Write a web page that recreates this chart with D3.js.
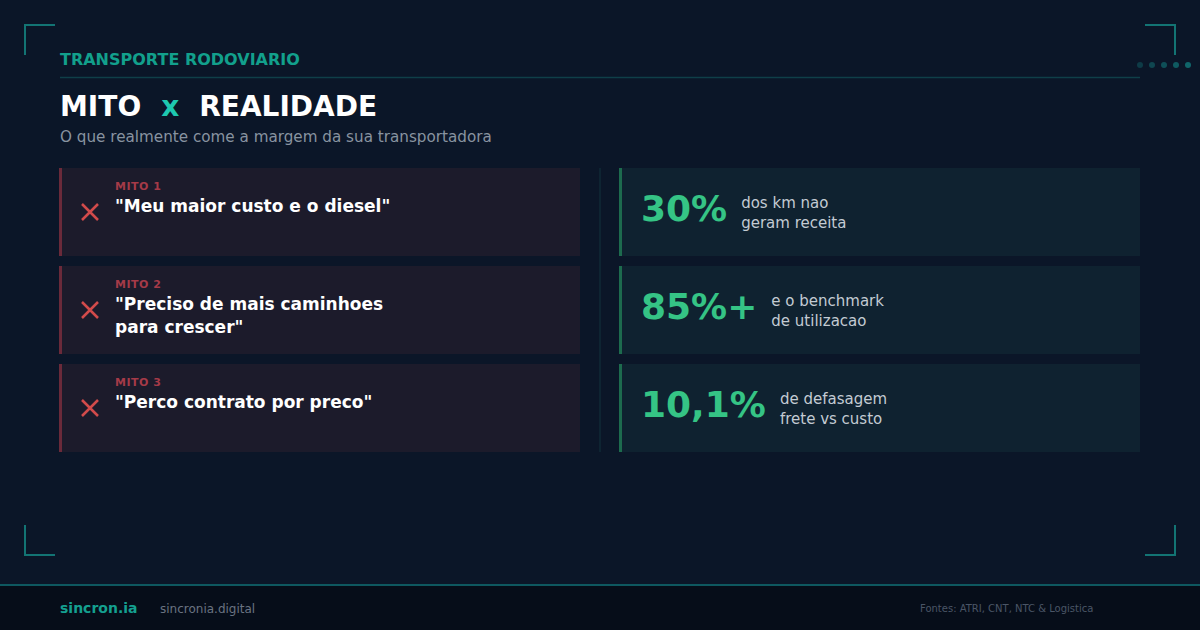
<!DOCTYPE html>
<html lang="pt">
  <head>
    <meta charset="UTF-8">
    <title>Mito x Realidade</title>
    <style>
    * { box-sizing: border-box; margin: 0; padding: 0; }
    body { background: #0b1628; font-family: "DejaVu Sans", sans-serif; }
    svg { display: block; }
    </style>
  </head>
  <body>
    <svg width="1200" height="630"></svg>
    <script src="https://d3js.org/d3.v7.min.js"></script>
    <script>
      // data
      const mythLabels = ["MITO 1", "MITO 2", "MITO 3"];
      const myths = [
        ["\"Meu maior custo e o diesel\""],
        ["\"Preciso de mais caminhoes", "para crescer\""],
        ["\"Perco contrato por preco\""]
      ];
      const statValues = ["30%", "85%+", "10,1%"];
      const statDescs = [
        ["dos km nao", "geram receita"],
        ["e o benchmark", "de utilizacao"],
        ["de defasagem", "frete vs custo"]
      ];

      const W = 1200, H = 630;
      const svg = d3.select("svg");

      // background + faint grid
      svg.append("rect").attr("width", W).attr("height", H).attr("fill", "#0b1628");
      const grid = svg.append("g").attr("stroke", "#ffffff").attr("stroke-opacity", 0.012);
      grid.selectAll("line.v").data(d3.range(0, W, 40)).enter().append("line")
        .attr("x1", d => d).attr("x2", d => d).attr("y1", 0).attr("y2", 585);
      grid.selectAll("line.h").data(d3.range(0, 585, 40)).enter().append("line")
        .attr("y1", d => d).attr("y2", d => d).attr("x1", 0).attr("x2", W);

      // corner brackets
      const corners = [
        "M25,55 V25 H55", "M1145,25 H1175 V55",
        "M25,525 V555 H55", "M1145,555 H1175 V525"
      ];
      svg.selectAll("path.corner").data(corners).enter().append("path")
        .attr("class", "corner").attr("d", d => d)
        .attr("fill", "none").attr("stroke", "#137474").attr("stroke-width", 2);

      // dots top right
      svg.selectAll("circle.dot").data(d3.range(5)).enter().append("circle")
        .attr("cx", d => 1140 + d * 12).attr("cy", 65).attr("r", 3)
        .attr("fill", "#138080").attr("opacity", d => 0.35 + d * 0.1);

      // header
      svg.append("text").attr("x", 60).attr("y", 65)
        .attr("fill", "#12a08c").attr("font-size", 16).attr("font-weight", "bold")
        .text("TRANSPORTE RODOVIARIO");
      svg.append("line").attr("x1", 60).attr("x2", 1140).attr("y1", 77.5).attr("y2", 77.5)
        .attr("stroke", "#0f3f48").attr("stroke-width", 1.5);

      const title = svg.append("text").attr("x", 60).attr("y", 116)
        .attr("font-size", 28).attr("font-weight", "bold").attr("fill", "#ffffff");
      title.append("tspan").text("MITO");
      title.append("tspan").attr("fill", "#1ec8b0").attr("dx", 20).text("x");
      title.append("tspan").attr("dx", 20).text("REALIDADE");

      svg.append("text").attr("x", 60).attr("y", 142)
        .attr("fill", "#8893a0").attr("font-size", 15.2)
        .text("O que realmente come a margem da sua transportadora");

      // card layout
      const y = d3.scaleBand().domain(d3.range(myths.length))
        .range([168, 452]).paddingInner(10 / 98).paddingOuter(0);
      const cardH = y.bandwidth();

      // myth cards
      const left = svg.selectAll("g.myth").data(myths).enter().append("g")
        .attr("class", "myth").attr("transform", (d, i) => `translate(59,${y(i)})`);
      left.append("rect").attr("width", 521).attr("height", cardH).attr("fill", "#1c1b2b");
      left.append("rect").attr("width", 3).attr("height", cardH).attr("fill", "#6a2a3a");
      left.append("path")
        .attr("d", `M23,${cardH / 2 - 8} l16,16 M39,${cardH / 2 - 8} l-16,16`)
        .attr("stroke", "#d24b4b").attr("stroke-width", 2.5).attr("fill", "none");
      left.append("text").attr("x", 56).attr("y", 22)
        .attr("fill", "#a53a48").attr("font-size", 11).attr("font-weight", "bold")
        .attr("letter-spacing", 0.5).text((d, i) => mythLabels[i]);
      left.append("text").attr("x", 56).attr("y", 44)
        .attr("fill", "#ffffff").attr("font-size", 17).attr("font-weight", "bold")
        .selectAll("tspan").data(d => d).enter().append("tspan")
        .attr("x", 56).attr("dy", (d, j) => j ? 23 : 0).text(d => d);

      // divider
      svg.append("line").attr("x1", 600).attr("x2", 600).attr("y1", 168).attr("y2", 452)
        .attr("stroke", "#112a36").attr("stroke-width", 1.5);

      // stat cards
      const right = svg.selectAll("g.stat").data(statValues).enter().append("g")
        .attr("class", "stat").attr("transform", (d, i) => `translate(619,${y(i)})`);
      right.append("rect").attr("width", 521).attr("height", cardH).attr("fill", "#0f2230");
      right.append("rect").attr("width", 3).attr("height", cardH).attr("fill", "#1d6b4e");
      right.append("text").attr("class", "num").attr("x", 22).attr("y", 53)
        .attr("fill", "#35c485").attr("font-size", 36).attr("font-weight", "bold")
        .text(d => d);
      right.each(function(d, i) {
        const g = d3.select(this);
        const w = g.select("text.num").node().getComputedTextLength();
        const t = g.append("text").attr("fill", "#c3cbd3").attr("font-size", 15)
          .attr("y", 40);
        t.selectAll("tspan").data(statDescs[i]).enter().append("tspan")
          .attr("x", 22 + w + 14).attr("dy", (s, j) => j ? 20 : 0).text(s => s);
      });

      // footer
      svg.append("rect").attr("x", 0).attr("y", 585).attr("width", W).attr("height", 45)
        .attr("fill", "#060d19");
      svg.append("line").attr("x1", 0).attr("x2", W).attr("y1", 585).attr("y2", 585)
        .attr("stroke", "#0e5860").attr("stroke-width", 2);
      svg.append("text").attr("x", 60).attr("y", 613)
        .attr("fill", "#14a090").attr("font-size", 14).attr("font-weight", "bold")
        .text("sincron.ia");
      svg.append("text").attr("x", 160).attr("y", 613)
        .attr("fill", "#6a7381").attr("font-size", 12).text("sincronia.digital");
      svg.append("text").attr("x", 920).attr("y", 612)
        .attr("fill", "#4a5566").attr("font-size", 10)
        .text("Fontes: ATRI, CNT, NTC & Logistica");
    </script>
  </body>
</html>
